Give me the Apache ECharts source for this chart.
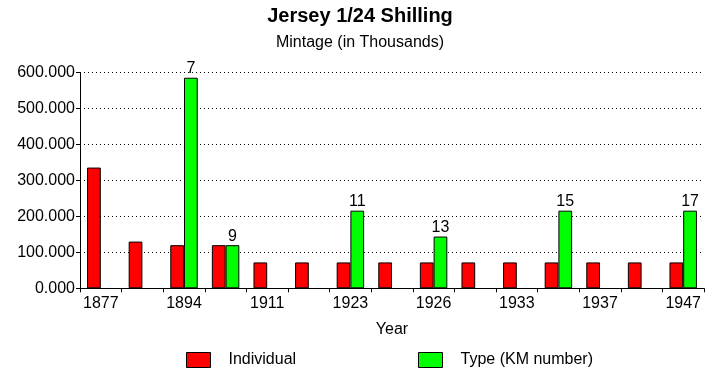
<!DOCTYPE html>
<html>
<head>
<meta charset="utf-8">
<script src="https://cdn.jsdelivr.net/npm/echarts@6/dist/echarts.min.js"></script>
<style>html,body{margin:0;padding:0;background:#fff}#c{width:720px;height:392px}</style>
</head>
<body>
<div id="c"></div>
<script>
var years = ['1877','1888','1894','1909','1911','1913','1923','1923 ','1926','1931','1933','1935','1937','1946','1947'];
var individual = [336, 130, 120, 120, 72, 72, 72, 72, 72, 72, 72, 72, 72, 72, 72];
var typeKM = [null, null, 586, 120, null, null, 216, null, 144, null, null, 216, null, null, 216];
var kmNumbers = [null, null, '7', '9', null, null, '11', null, '13', null, null, '15', null, null, '17'];
var yTicks = [0, 100, 200, 300, 400, 500, 600];

var FONT = '"Liberation Sans", Arial, sans-serif';
var chart = echarts.init(document.getElementById('c'));
chart.setOption({
  animation: false,
  backgroundColor: '#fff',
  title: [{
    text: 'Jersey 1/24 Shilling',
    left: 'center', top: 6, padding: 0,
    textStyle: {fontFamily: FONT, fontSize: 20, fontWeight: 'bold', color: '#000'}
  }, {
    text: 'Mintage (in Thousands)',
    left: 'center', top: 35, padding: 0,
    textStyle: {fontFamily: FONT, fontSize: 16, fontWeight: 'normal', color: '#000'}
  }],
  legend: [{
    data: ['Individual'], left: 186, top: 352, itemWidth: 24, itemHeight: 15, padding: 0,
    icon: 'rect',
    itemStyle: {borderColor: '#000', borderWidth: 1},
    textStyle: {fontFamily: FONT, fontSize: 16, color: '#000', padding: [0, 0, 0, 13]}
  }, {
    data: ['Type (KM number)'], left: 418, top: 352, itemWidth: 24, itemHeight: 15, padding: 0,
    icon: 'rect',
    itemStyle: {borderColor: '#000', borderWidth: 1},
    textStyle: {fontFamily: FONT, fontSize: 16, color: '#000', padding: [0, 0, 0, 13]}
  }],
  grid: {left: 80, right: 16, top: 72.7, bottom: 103.7, containLabel: false},
  xAxis: {
    type: 'category',
    data: years,
    name: 'Year', nameLocation: 'middle', nameGap: 33,
    nameTextStyle: {fontFamily: FONT, fontSize: 16, color: '#000'},
    axisLine: {lineStyle: {color: '#000', width: 1}},
    axisTick: {show: true, interval: 0, length: 4, lineStyle: {color: '#000'}},
    axisLabel: {interval: 1, margin: 7, fontFamily: FONT, fontSize: 16, color: '#000'}
  },
  yAxis: {
    type: 'value', min: yTicks[0], max: yTicks[yTicks.length - 1], interval: 100,
    axisLine: {show: true, lineStyle: {color: '#000', width: 1}},
    axisTick: {show: true, length: 4, lineStyle: {color: '#000'}},
    axisLabel: {margin: 5, fontFamily: FONT, fontSize: 16, color: '#000',
      formatter: function (v) { return v.toFixed(3); }},
    splitLine: {show: true, lineStyle: {color: '#000', type: [1, 3], width: 1}}
  },
  series: [{
    name: 'Individual', type: 'bar', data: individual,
    barGap: '0%', barCategoryGap: '34%',
    itemStyle: {color: '#ff0000', borderColor: '#000', borderWidth: 1}
  }, {
    name: 'Type (KM number)', type: 'bar', data: typeKM,
    barGap: '0%', barCategoryGap: '34%',
    itemStyle: {color: '#00ff00', borderColor: '#000', borderWidth: 1},
    label: {show: true, position: 'top', distance: 1, fontFamily: FONT, fontSize: 16, color: '#000',
      formatter: function (p) { return kmNumbers[p.dataIndex] || ''; }}
  }]
});
</script>
</body>
</html>
